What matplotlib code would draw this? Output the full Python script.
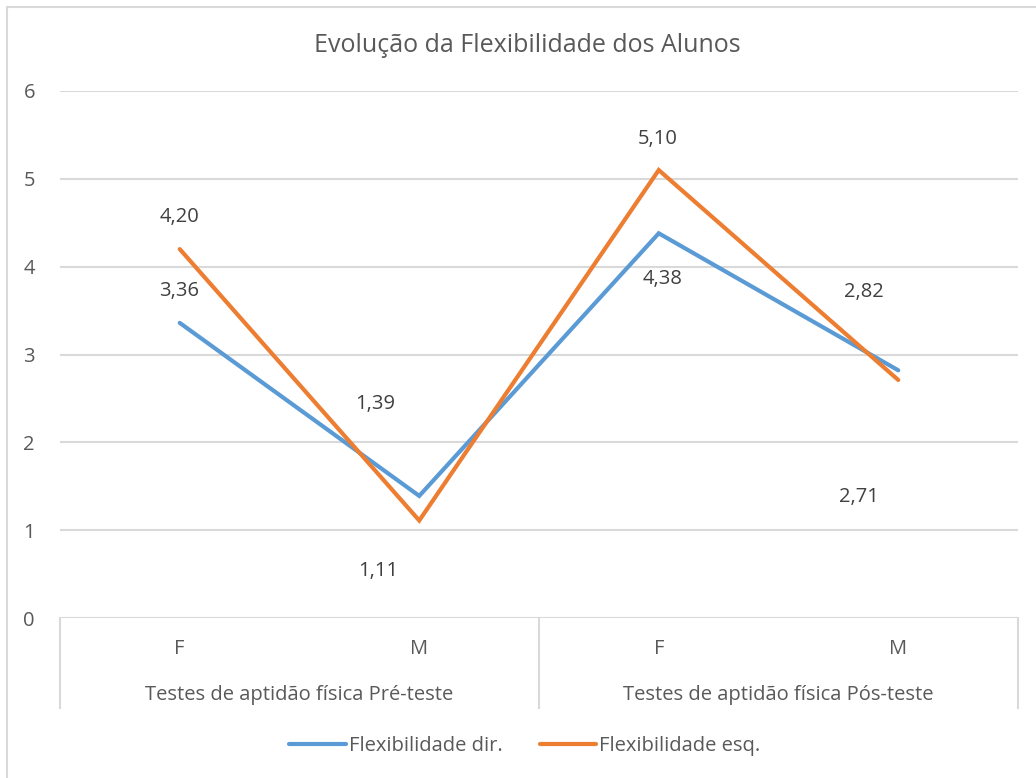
import matplotlib.pyplot as plt
from matplotlib.lines import Line2D
from matplotlib.patches import Rectangle

plt.rcParams["font.family"] = ["Open Sans", "DejaVu Sans"]

TEXT = "#595959"
GRID = "#D9D9D9"

title = "Evolução da Flexibilidade dos Alunos"
categories = ["F", "M", "F", "M"]
groups = ["Testes de aptidão física Pré-teste", "Testes de aptidão física Pós-teste"]
series_names = ["Flexibilidade dir.", "Flexibilidade esq."]
flex_dir = [3.36, 1.39, 4.38, 2.82]
flex_esq = [4.20, 1.11, 5.10, 2.71]
colors = ["#5B9BD5", "#ED7D31"]

# label offsets in pixels, as placed in the original chart
offsets = [
    [(-1, 32), (-44, 92), (4, -46), (-34, 78)],
    [(0, 32), (-41, -50), (-1, 31), (-39, -117)],
]

W, H = 1036, 778
FS = 14.5
fig = plt.figure(figsize=(W / 100, H / 100), dpi=100)
fig.patch.set_facecolor("white")

# chart frame (cropped on right and bottom in the original)
fig.add_artist(Rectangle((7 / W, -0.1), 1.2, 1 - 7 / H + 0.1, transform=fig.transFigure,
                         fill=False, edgecolor=GRID, linewidth=1.5))

ax = fig.add_axes([60 / W, (H - 618) / H, 958 / W, 527 / H])
x = list(range(len(categories)))
for vals, name, col, offs in zip([flex_dir, flex_esq], series_names, colors, offsets):
    ax.plot(x, vals, color=col, linewidth=3, label=name, solid_capstyle="round",
            solid_joinstyle="miter", zorder=3)
    for xi, v, (dx, dy) in zip(x, vals, offs):
        ax.annotate(f"{v:.2f}".replace(".", ","), (xi, v), xytext=(dx, dy),
                    textcoords="offset pixels", ha="center", va="center",
                    fontsize=FS, color="#404040")

ax.set_xlim(-0.5, len(categories) - 0.5)
ax.set_ylim(0, 6)
ax.set_yticks(range(7))
ax.yaxis.grid(True, color=GRID, linewidth=1.5)
ax.set_axisbelow(True)
for s in ax.spines.values():
    s.set_visible(False)
ax.tick_params(axis="y", length=0, labelsize=FS, labelcolor=TEXT, pad=18)
ax.tick_params(axis="x", length=0, labelsize=FS, labelcolor=TEXT, pad=15)
ax.set_xticks(x)
ax.set_xticklabels(categories)

# grouped category axis lines and labels
tr = ax.get_xaxis_transform()
low = -90 / 527
for xb in [-0.5, 1.5, 3.5]:
    ax.add_line(Line2D([xb, xb], [0, low], transform=tr, color=GRID, linewidth=1.5,
                       clip_on=False))
for i, g in enumerate(groups):
    ax.text(2 * i + 0.5, -77 / 527, g, transform=tr, ha="center", va="center",
            fontsize=FS, color=TEXT)

fig.text(527 / W, 1 - 45 / H, title, ha="center", va="center", fontsize=18, color=TEXT)

fig.legend(loc="center", bbox_to_anchor=(525 / W, 1 - 746 / H), ncol=2, frameon=False,
           fontsize=FS, labelcolor=TEXT, handlelength=2.8, handletextpad=0.15,
           columnspacing=1.85)

fig.savefig("out.png", dpi=100)
